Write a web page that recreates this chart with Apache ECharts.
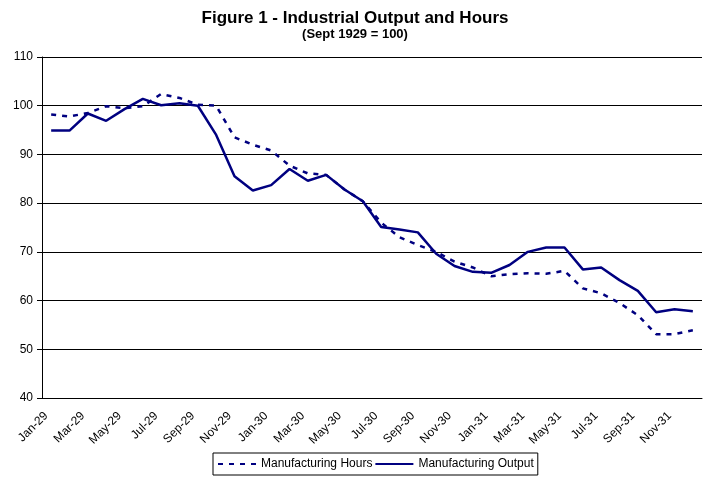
<!DOCTYPE html>
<html><head><meta charset="utf-8">
<script src="https://cdn.jsdelivr.net/npm/echarts@6/dist/echarts.min.js"></script>
<style>html,body{margin:0;padding:0;background:#fff}#c{width:710px;height:488px}</style>
</head><body><div id="c"></div>
<script>
const months = ['Jan','Feb','Mar','Apr','May','Jun','Jul','Aug','Sep','Oct','Nov','Dec'];
const years = ['29','30','31'];
const categories = [];
years.forEach(y => months.forEach(m => categories.push(m + '-' + y)));

const hours = [98.2,97.8,98.5,99.9,99.5,99.9,102.4,101.6,100.2,100.0,93.5,92.0,
  90.8,87.7,86.1,85.8,82.8,80.4,76.0,73.0,71.4,70.0,68.0,66.8,
  65.0,65.4,65.6,65.5,66.1,62.5,61.5,59.5,57.0,53.1,53.1,53.9];
const output = [94.9,94.9,98.4,96.9,99.3,101.4,100.1,100.5,100.0,94.0,85.5,82.6,
  83.7,87.0,84.6,85.8,82.8,80.4,75.1,74.6,74.0,69.6,67.1,65.9,
  65.7,67.3,70.0,70.9,70.9,66.4,66.8,64.2,62.0,57.6,58.2,57.8];
const yTicks = [40,50,60,70,80,90,100,110];

const chart = echarts.init(document.getElementById('c'));
chart.setOption({
  backgroundColor:'#fff',
  animation:false,
  title:{
    text:'Figure 1 - Industrial Output and Hours',
    subtext:'(Sept 1929 = 100)',
    left:'center', top:5, itemGap:1,
    textStyle:{fontFamily:'Liberation Sans, Arial',fontSize:17,fontWeight:'bold',color:'#000'},
    subtextStyle:{fontFamily:'Liberation Sans, Arial',fontSize:13,fontWeight:'bold',color:'#000'}
  },
  grid:{left:42,right:8,top:57,bottom:90},
  legend:{
    top:453, left:213,
    data:['Manufacturing Hours','Manufacturing Output'],
    borderColor:'#000', borderWidth:1, padding:[5,4],
    itemWidth:38, itemHeight:10, itemGap:2,
    itemStyle:{color:'rgba(0,0,0,0)',borderColor:'rgba(0,0,0,0)',borderWidth:0},
    textStyle:{fontFamily:'Liberation Sans, Arial',fontSize:12,color:'#000'}
  },
  xAxis:{
    type:'category', data:categories, boundaryGap:true,
    axisLine:{lineStyle:{color:'#000',width:1}},
    axisTick:{interval:1,length:5,lineStyle:{color:'#000'}},
    axisLabel:{interval:1,rotate:45,fontFamily:'Liberation Sans, Arial',fontSize:12,color:'#000',margin:11,padding:[0,7,0,0]}
  },
  yAxis:{
    type:'value', min:yTicks[0], max:yTicks[yTicks.length-1], interval:10,
    axisLine:{show:true,lineStyle:{color:'#000',width:1}},
    axisTick:{show:true,length:5,lineStyle:{color:'#000'}},
    axisLabel:{fontFamily:'Liberation Sans, Arial',fontSize:12,color:'#000',margin:9},
    splitLine:{lineStyle:{color:'#000',width:1}}
  },
  series:[
    {name:'Manufacturing Hours',type:'line',data:hours,symbol:'none',
     lineStyle:{color:'#000080',width:2.5,type:[5,6]},itemStyle:{color:'#000080'}},
    {name:'Manufacturing Output',type:'line',data:output,symbol:'none',
     lineStyle:{color:'#000080',width:2.5},itemStyle:{color:'#000080'}}
  ]
});
</script></body></html>
